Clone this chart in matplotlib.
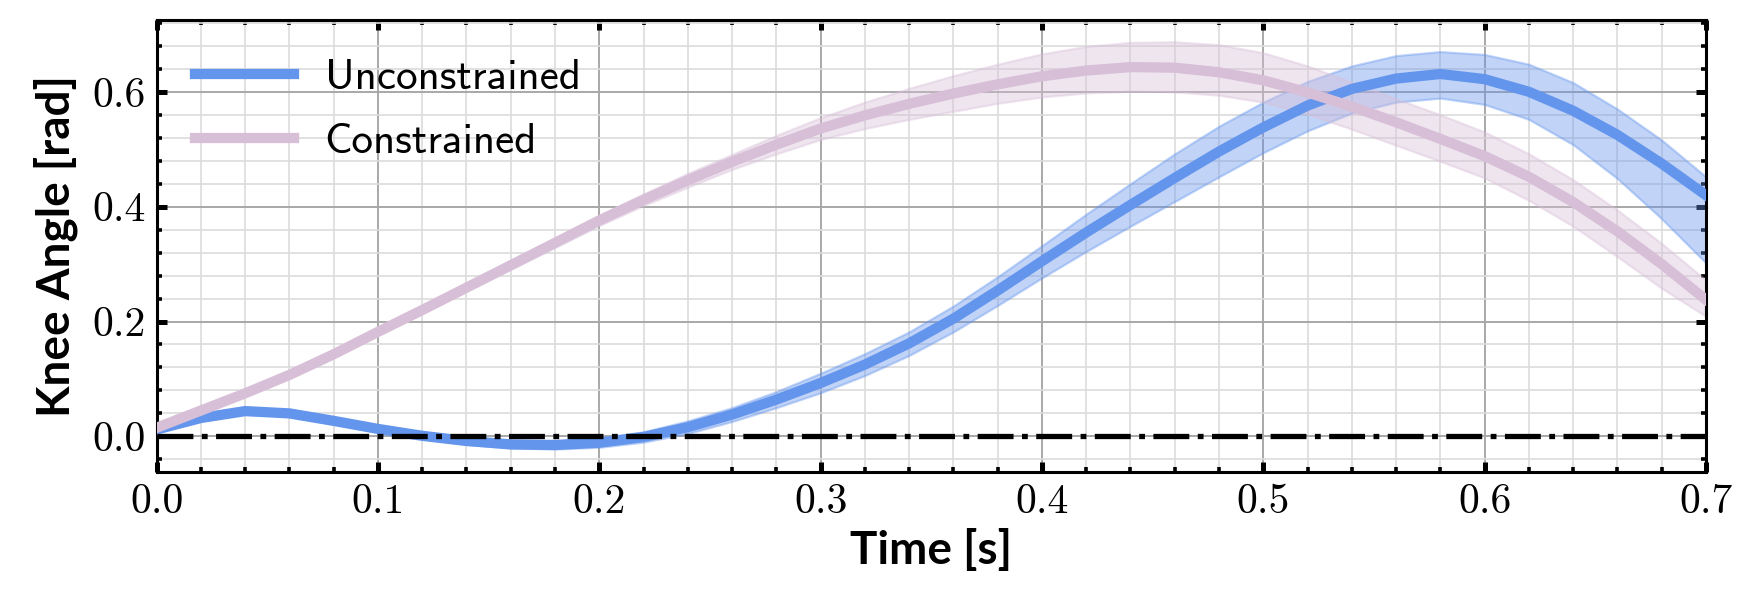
import matplotlib
matplotlib.use("Agg")
import matplotlib.pyplot as plt
from matplotlib.ticker import MultipleLocator, FormatStrFormatter

# time grid of the readings [s]
time = [0.00, 0.02, 0.04, 0.06, 0.08, 0.10, 0.12, 0.14, 0.16, 0.18,
        0.20, 0.22, 0.24, 0.26, 0.28, 0.30, 0.32, 0.34, 0.36, 0.38,
        0.40, 0.42, 0.44, 0.46, 0.48, 0.50, 0.52, 0.54, 0.56, 0.58,
        0.60, 0.62, 0.64, 0.66, 0.68, 0.70]

# unconstrained knee angle [rad]: mean and band
unc_mean = [0.012, 0.032, 0.044, 0.040, 0.027, 0.013, 0.001, -0.008, -0.014, -0.015,
            -0.011, -0.001, 0.016, 0.038, 0.064, 0.093, 0.125, 0.162, 0.205, 0.254,
            0.305, 0.355, 0.403, 0.450, 0.496, 0.538, 0.576, 0.605, 0.623, 0.631,
            0.622, 0.600, 0.567, 0.525, 0.475, 0.420]
unc_upper = [0.015, 0.035, 0.048, 0.044, 0.032, 0.018, 0.006, -0.002, -0.008, -0.008,
             -0.003, 0.008, 0.027, 0.050, 0.078, 0.110, 0.144, 0.182, 0.227, 0.278,
             0.332, 0.387, 0.440, 0.492, 0.540, 0.582, 0.618, 0.645, 0.663, 0.670,
             0.665, 0.648, 0.616, 0.570, 0.516, 0.452]
unc_lower = [0.009, 0.029, 0.040, 0.036, 0.022, 0.008, -0.004, -0.014, -0.020, -0.022,
             -0.019, -0.010, 0.005, 0.026, 0.050, 0.076, 0.106, 0.141, 0.182, 0.228,
             0.276, 0.322, 0.366, 0.409, 0.452, 0.494, 0.532, 0.563, 0.582, 0.589,
             0.578, 0.552, 0.508, 0.449, 0.379, 0.302]

# constrained knee angle [rad]: mean and band
con_mean = [0.015, 0.045, 0.075, 0.107, 0.143, 0.182, 0.220, 0.259, 0.298, 0.337,
            0.376, 0.412, 0.446, 0.478, 0.508, 0.536, 0.559, 0.579, 0.597, 0.613,
            0.627, 0.637, 0.643, 0.642, 0.634, 0.620, 0.599, 0.574, 0.547, 0.518,
            0.488, 0.452, 0.408, 0.357, 0.300, 0.238]
con_upper = [0.017, 0.048, 0.078, 0.111, 0.147, 0.187, 0.226, 0.265, 0.305, 0.345,
             0.385, 0.422, 0.458, 0.491, 0.524, 0.555, 0.582, 0.606, 0.628, 0.648,
             0.666, 0.679, 0.686, 0.687, 0.682, 0.668, 0.645, 0.617, 0.588, 0.560,
             0.530, 0.492, 0.447, 0.394, 0.336, 0.272]
con_lower = [0.013, 0.042, 0.072, 0.103, 0.139, 0.177, 0.214, 0.253, 0.291, 0.329,
             0.367, 0.402, 0.434, 0.465, 0.492, 0.517, 0.536, 0.552, 0.566, 0.580,
             0.591, 0.598, 0.601, 0.600, 0.594, 0.582, 0.561, 0.535, 0.507, 0.479,
             0.450, 0.411, 0.366, 0.313, 0.258, 0.209]

BLUE = "cornflowerblue"
PINK = "thistle"

plt.rcParams["axes.formatter.use_mathtext"] = True

fig = plt.figure(figsize=(8.77, 2.985), dpi=200)
ax = fig.add_axes([0.0893, 0.2094, 0.8833, 0.7571])

ax.fill_between(time, unc_lower, unc_upper, color=BLUE, alpha=0.4, lw=0.8, zorder=2)
ax.fill_between(time, con_lower, con_upper, color=PINK, alpha=0.4, lw=0.8, zorder=2)
ax.plot(time, unc_mean, color=BLUE, lw=3.7, label="Unconstrained", zorder=3)
ax.plot(time, con_mean, color=PINK, lw=3.7, label="Constrained", zorder=3)
ax.axhline(0.0, color="black", lw=1.9, dashes=(6.8, 1.6, 1.1, 1.6), zorder=4)

ax.set_xlim(0.0, 0.7)
ax.set_ylim(-0.062, 0.725)
ax.xaxis.set_major_locator(MultipleLocator(0.1))
ax.xaxis.set_minor_locator(MultipleLocator(0.02))
ax.yaxis.set_major_locator(MultipleLocator(0.2))
ax.yaxis.set_minor_locator(MultipleLocator(0.04))
ax.xaxis.set_major_formatter(FormatStrFormatter("%.1f"))
ax.yaxis.set_major_formatter(FormatStrFormatter("%.1f"))

ax.grid(which="major", color="#a8a8a8", lw=0.7, zorder=0)
ax.grid(which="minor", color="#dcdcdc", lw=0.6, zorder=0)
ax.set_axisbelow(True)

ax.tick_params(which="both", direction="in", top=True, right=True, colors="black")
ax.tick_params(which="major", length=3.6, width=1.8, pad=4)
ax.tick_params(which="minor", length=1.8, width=1.3)
for lab in ax.get_xticklabels() + ax.get_yticklabels():
    lab.set_family("cmr10")
    lab.set_fontsize(15)
for sp in ax.spines.values():
    sp.set_linewidth(1.1)
    sp.set_color("black")

ax.set_xlabel("Time [s]", family="Lato", weight="bold", fontsize=16.5, labelpad=3)
ax.set_ylabel("Knee Angle [rad]", family="Lato", weight="bold", fontsize=16.5, labelpad=5)

ax.legend(loc="upper left", frameon=False, handlelength=2.3, handletextpad=0.7,
          labelspacing=0.6, prop={"family": "cmss10", "size": 15.5})

fig.savefig("out.png", dpi=200)
